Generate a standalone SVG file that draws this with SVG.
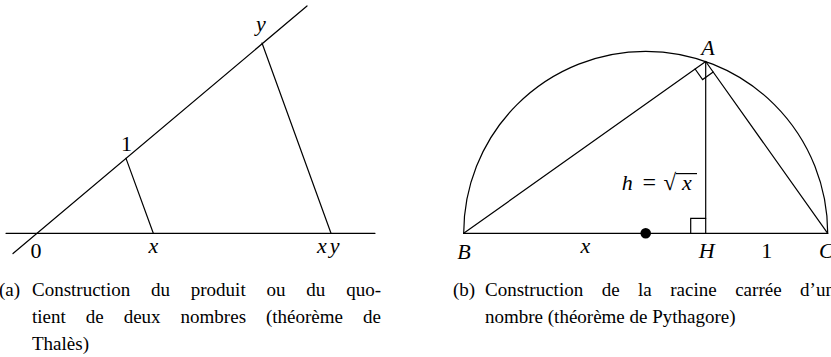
<svg xmlns="http://www.w3.org/2000/svg" width="831" height="357" viewBox="0 0 831 357">
<style>
  .ln { stroke: #000; stroke-width: 1.2; fill: none; stroke-linecap: round; }
  .lbl { font-family: 'Liberation Serif', serif; font-size: 22px; fill: #000; }
  .it { font-style: italic; }
  .cap { font-family: 'Liberation Serif', serif; font-size: 19px; fill: #000; }
</style>
<rect width="831" height="357" fill="#fff"/>

<g id="figure-a">
  <g id="connectors-a">
    <line class="ln" x1="6" y1="233.3" x2="375" y2="233.3"/>
    <line class="ln" x1="13" y1="253.5" x2="307" y2="6"/>
    <line class="ln" x1="126" y1="158.4" x2="153.3" y2="233.3"/>
    <line class="ln" x1="262" y1="43" x2="331" y2="233.3"/>
  </g>
  <g id="label-y"><text class="lbl it" x="261" y="31" text-anchor="middle">y</text></g>
  <g id="label-1"><text class="lbl" x="126.5" y="150.5" text-anchor="middle">1</text></g>
  <g id="label-0"><text class="lbl" x="36" y="258" text-anchor="middle">0</text></g>
  <g id="label-x"><text class="lbl it" x="153.5" y="253.3" text-anchor="middle">x</text></g>
  <g id="label-xy"><text class="lbl it" x="317" y="253.3">x<tspan dx="3">y</tspan></text></g>
</g>

<g id="figure-b">
  <g id="connectors-b">
    <path class="ln" d="M 463.7 233.3 A 182 182 0 0 1 827.7 233.3"/>
    <line class="ln" x1="463.7" y1="233.3" x2="827.7" y2="233.3"/>
    <line class="ln" x1="463.7" y1="233.3" x2="705.7" y2="61.5"/>
    <line class="ln" x1="827.7" y1="233.3" x2="705.7" y2="61.5"/>
    <line class="ln" x1="705.7" y1="61.5" x2="705.7" y2="233.3"/>
    <polyline class="ln" points="690.7,233.3 690.7,218.3 705.7,218.3"/>
    <polyline class="ln" points="695.1,69 702.6,79.6 713.2,72.1"/>
    <circle cx="645.7" cy="233.3" r="5.3" fill="#000"/>
  </g>
  <g id="label-A"><text class="lbl it" x="708" y="55" text-anchor="middle">A</text></g>
  <g id="label-B"><text class="lbl it" x="464" y="259" text-anchor="middle">B</text></g>
  <g id="label-xb"><text class="lbl it" x="585.5" y="253.3" text-anchor="middle">x</text></g>
  <g id="label-H"><text class="lbl it" x="706.7" y="258" text-anchor="middle">H</text></g>
  <g id="label-1b"><text class="lbl" x="766.7" y="257.5" text-anchor="middle">1</text></g>
  <g id="label-C"><text class="lbl it" x="819" y="258">C</text></g>
  <g id="label-h">
    <text class="lbl" x="621.7" y="190"><tspan class="it">h</tspan><tspan x="642.5" font-size="24">=</tspan><tspan x="663.5" font-size="23">√</tspan><tspan class="it" x="682">x</tspan></text>
    <line x1="675.8" y1="173.6" x2="697" y2="173.6" stroke="#000" stroke-width="1.2"/>
  </g>
</g>

<g id="captions">
  <text class="cap" y="296"><tspan x="-1">(a)</tspan> <tspan x="32">Construction</tspan> <tspan x="151">du</tspan> <tspan x="190.8">produit</tspan> <tspan x="266.5">ou</tspan> <tspan x="306.3">du</tspan> <tspan x="346.2">quo-</tspan></text>
  <text class="cap" y="323"><tspan x="32">tient</tspan> <tspan x="85.8">de</tspan> <tspan x="123.7">deux</tspan> <tspan x="180.6">nombres</tspan> <tspan x="266">(théorème</tspan> <tspan x="363.1">de</tspan></text>
  <text class="cap" x="32" y="350">Thalès)</text>
  <text class="cap" y="296"><tspan x="453">(b)</tspan> <tspan x="485">Construction</tspan> <tspan x="601.7">de</tspan> <tspan x="638.1">la</tspan> <tspan x="670.3">racine</tspan> <tspan x="735.2">carrée</tspan> <tspan x="800.1">d’un</tspan></text>
  <text class="cap" x="485" y="323">nombre (théorème de Pythagore)</text>
</g>
</svg>
